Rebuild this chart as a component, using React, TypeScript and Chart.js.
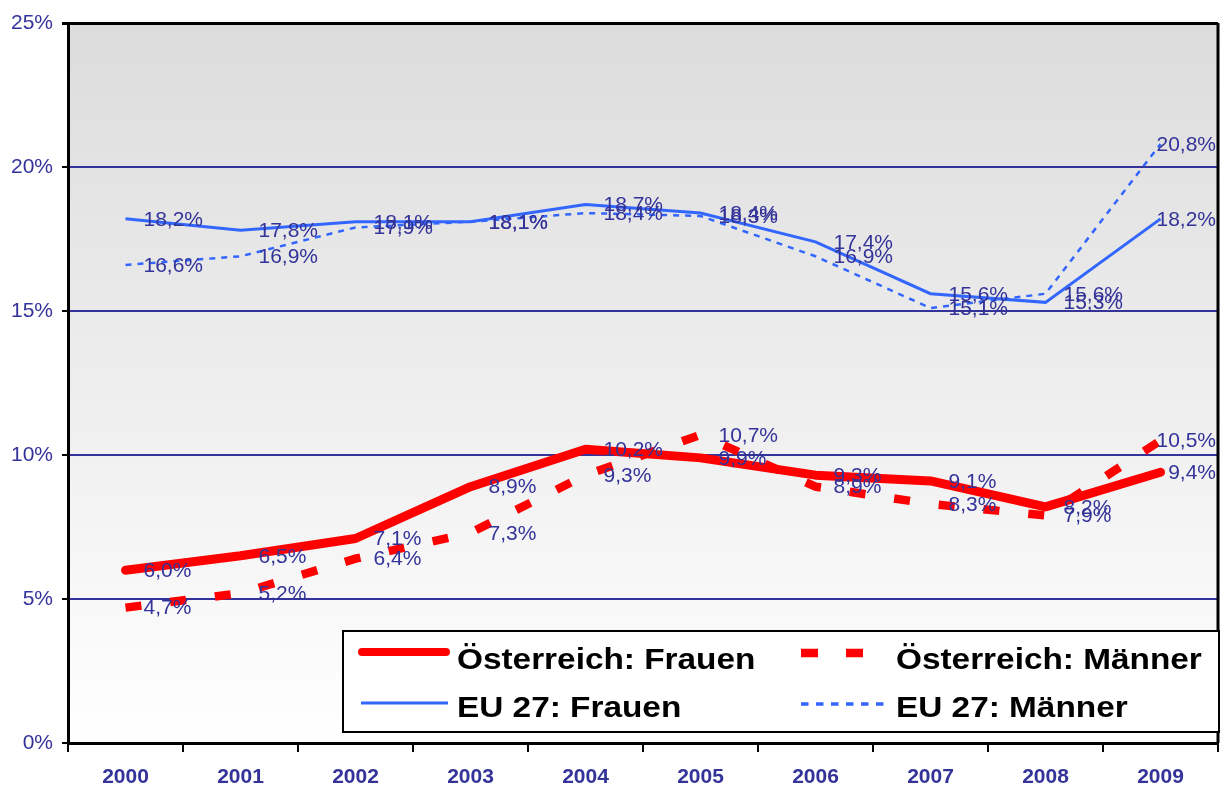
import React, { useEffect, useRef } from "react";
import { Chart, registerables } from "chart.js";

Chart.register(...registerables);

const years = ["2000", "2001", "2002", "2003", "2004", "2005", "2006", "2007", "2008", "2009"];
const atFrauen = [6.0, 6.5, 7.1, 8.9, 10.2, 9.9, 9.3, 9.1, 8.2, 9.4];
const atMaenner = [4.7, 5.2, 6.4, 7.3, 9.3, 10.7, 8.9, 8.3, 7.9, 10.5];
const euFrauen = [18.2, 17.8, 18.1, 18.1, 18.7, 18.4, 17.4, 15.6, 15.3, 18.2];
const euMaenner = [16.6, 16.9, 17.9, 18.1, 18.4, 18.3, 16.9, 15.1, 15.6, 20.8];
const yTicks = [0, 5, 10, 15, 20, 25];
const seriesNames = ["Österreich: Frauen", "Österreich: Männer", "EU 27: Frauen", "EU 27: Männer"];

const FONT = "'Liberation Sans', Arial, sans-serif";
const RED = "#ff0000";
const BLUE = "#3366ff";
const NAVY = "#333399";

const fmt = (v: number) => v.toFixed(1).replace(".", ",") + "%";

const bgPlugin = {
  id: "bgPlugin",
  beforeDraw(chart: any) {
    const { ctx, chartArea: a } = chart;
    const g = ctx.createLinearGradient(0, a.top, 0, a.bottom);
    g.addColorStop(0, "#dcdcdc");
    g.addColorStop(1, "#ffffff");
    ctx.save();
    ctx.fillStyle = g;
    ctx.fillRect(a.left, a.top, a.right - a.left, a.bottom - a.top);
    ctx.restore();
  },
};

const labelPlugin = {
  id: "labelPlugin",
  afterDatasetsDraw(chart: any) {
    const { ctx, chartArea: a } = chart;
    ctx.save();
    ctx.strokeStyle = "#000";
    ctx.lineWidth = 3;
    ctx.beginPath();
    ctx.moveTo(a.right, a.top);
    ctx.lineTo(a.right, a.bottom);
    ctx.stroke();
    ctx.font = `21px ${FONT}`;
    ctx.fillStyle = NAVY;
    ctx.textBaseline = "middle";
    ctx.textAlign = "left";
    chart.data.datasets.forEach((ds: any, i: number) => {
      const meta = chart.getDatasetMeta(i);
      meta.data.forEach((pt: any, j: number) => {
        const t = fmt(ds.data[j]);
        const w = ctx.measureText(t).width;
        const x = Math.min(pt.x + 18, a.right - 2 - w);
        ctx.fillText(t, x, pt.y + 1);
      });
    });
    ctx.restore();
  },
};

const legendPlugin = {
  id: "legendPlugin",
  afterDraw(chart: any) {
    const { ctx } = chart;
    const box = { x: 343, y: 631, w: 876, h: 101 };
    ctx.save();
    ctx.fillStyle = "#ffffff";
    ctx.fillRect(box.x, box.y, box.w, box.h);
    ctx.strokeStyle = "#000";
    ctx.lineWidth = 2;
    ctx.strokeRect(box.x, box.y, box.w, box.h);
    const ds = chart.data.datasets;
    const items = [
      { i: 0, x1: 362, x2: 446, ly: 652, lw: 8, tx: 457, ty: 669, cap: "round" },
      { i: 1, x1: 801, x2: 864, ly: 653, lw: 8.7, tx: 896, ty: 669, cap: "butt", dash: [17, 28] },
      { i: 2, x1: 361, x2: 448, ly: 703, lw: 3, tx: 457, ty: 717, cap: "butt" },
      { i: 3, x1: 801, x2: 884, ly: 704, lw: 3.5, tx: 896, ty: 717, cap: "butt", dash: [7.5, 7.5] },
    ];
    items.forEach((it: any) => {
      const d = ds[it.i];
      ctx.save();
      ctx.strokeStyle = d.borderColor;
      ctx.lineWidth = it.lw;
      ctx.lineCap = it.cap;
      ctx.setLineDash(it.dash || []);
      ctx.beginPath();
      ctx.moveTo(it.x1, it.ly);
      ctx.lineTo(it.x2, it.ly);
      ctx.stroke();
      ctx.restore();
      ctx.save();
      ctx.translate(it.tx, it.ty);
      ctx.scale(1.15, 1);
      ctx.font = `bold 29px ${FONT}`;
      ctx.fillStyle = "#000";
      ctx.textBaseline = "alphabetic";
      ctx.textAlign = "left";
      ctx.fillText(d.label, 0, 0);
      ctx.restore();
    });
    ctx.restore();
  },
};

export default function App() {
  const ref = useRef<HTMLCanvasElement | null>(null);
  useEffect(() => {
    if (!ref.current) return;
    const chart = new Chart(ref.current, {
      type: "line",
      data: {
        labels: years,
        datasets: [
          {
            label: seriesNames[0],
            data: atFrauen,
            borderColor: RED,
            borderWidth: 9,
            borderCapStyle: "round",
            borderJoinStyle: "round",
            pointRadius: 0,
            tension: 0,
          },
          {
            label: seriesNames[1],
            data: atMaenner,
            borderColor: RED,
            borderWidth: 8.5,
            borderDash: [16, 29],
            pointRadius: 0,
            tension: 0,
          },
          {
            label: seriesNames[2],
            data: euFrauen,
            borderColor: BLUE,
            borderWidth: 3,
            pointRadius: 0,
            tension: 0,
          },
          {
            label: seriesNames[3],
            data: euMaenner,
            borderColor: BLUE,
            borderWidth: 2.5,
            borderDash: [6, 6],
            pointRadius: 0,
            tension: 0,
          },
        ],
      } as any,
      options: {
        animation: false,
        responsive: false,
        devicePixelRatio: 1,
        layout: { padding: { top: 23, right: 7, bottom: 0, left: 0 } },
        plugins: { legend: { display: false }, tooltip: { enabled: false } },
        scales: {
          x: {
            offset: true,
            grid: {
              offset: true,
              drawOnChartArea: false,
              drawTicks: true,
              tickLength: 9,
              color: "#000",
              lineWidth: 2,
            },
            border: { display: true, color: "#000", width: 3 },
            ticks: {
              color: NAVY,
              font: { family: FONT, size: 21, weight: "bold" },
              padding: 13,
              maxRotation: 0,
            },
            afterFit: (s: any) => {
              s.height = 45;
            },
          },
          y: {
            min: 0,
            max: 25,
            afterBuildTicks: (s: any) => {
              s.ticks = yTicks.map((v) => ({ value: v }));
            },
            ticks: {
              color: NAVY,
              font: { family: FONT, size: 21 },
              padding: 9,
              callback: (v: any) => v + "%",
            },
            grid: {
              color: (c: any) => (c.tick && c.tick.value === 25 ? "#000" : NAVY),
              lineWidth: (c: any) => (c.tick && c.tick.value === 25 ? 3 : 2),
              tickColor: "#000",
              tickLength: 6,
            },
            border: { display: true, color: "#000", width: 3 },
            afterFit: (s: any) => {
              s.width = 68;
            },
          },
        },
      } as any,
      plugins: [bgPlugin, labelPlugin, legendPlugin],
    });
    return () => chart.destroy();
  }, []);
  return (
    <div style={{ position: "fixed", left: 0, top: 0, width: 1225, height: 788, background: "#fff" }}>
      <canvas ref={ref} width={1225} height={788} />
    </div>
  );
}
